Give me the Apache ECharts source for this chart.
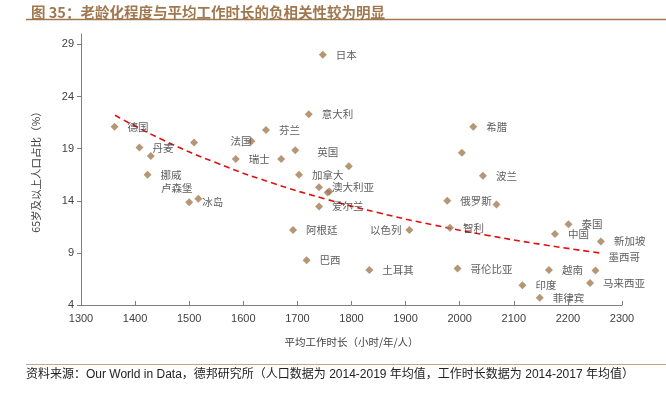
<!DOCTYPE html>
<html><head><meta charset="utf-8">
<script src="https://cdn.jsdelivr.net/npm/echarts@6/dist/echarts.min.js"></script>
<style>html,body{margin:0;padding:0;background:#fff}#c{width:666px;height:394px}</style>
</head><body><div id="c"></div>
<script>
// ---- data ----
const countries = ['德国','丹麦','','','挪威','冰岛','卢森堡','法国','瑞士','','芬兰','英国','意大利','日本','加拿大','','希腊','','波兰','澳大利亚','','','爱尔兰','阿根廷','巴西','俄罗斯','','以色列','智利','泰国','中国','新加坡','墨西哥','土耳其','哥伦比亚','越南','马来西亚','印度','菲律宾'];
const hours   = [1362,1408,1429,1509,1423,1500,1517,1615,1586,1670,1642,1696,1721,1747,1703,1795,2025,2004,2043,1740,1756,1759,1740,1692,1717,1977,2068,1907,1982,2201,2176,2261,2251,1833,1996,2165,2241,2116,2148];
const share65 = [21.1,19.1,18.3,19.6,16.5,13.85,14.2,19.7,18.0,18.0,20.8,18.85,22.3,28.0,16.5,17.3,21.1,18.6,16.4,15.3,14.8,14.9,13.45,11.2,8.3,14.0,13.65,11.2,11.4,11.75,10.8,10.1,7.3,7.35,7.5,7.35,6.1,5.9,4.7];
const trendHours = [1363,1450,1550,1650,1750,1850,1950,2050,2150,2265];
const trendShare = [22.2,19.87,17.64,15.77,14.2,12.85,11.7,10.7,9.82,8.95];
const yTicks = [4,9,14,19,24,29];

// ---- label placement (style, not data) ----
const labelOverrides = {
  '法国': {position:'left', distance:5, offset:[9,0]},
  '英国': {offset:[9,2]},
  '卢森堡': {position:'left', distance:2, offset:[0,-11]},
  '以色列': {position:'left', distance:4},
  '墨西哥': {offset:[0,-14]}
};
const cjk = '"Noto Sans CJK SC", sans-serif';
const brown = '#A47C52';

const pts = countries.map((n,i)=>{
  const lab = Object.assign({show: n !== '', position:'right', distance:9, formatter: n}, labelOverrides[n]||{});
  return {name:n, value:[hours[i], share65[i]], label: lab};
});

const chart = echarts.init(document.getElementById('c'), null, {renderer:'canvas'});
chart.setOption({
  animation:false,
  title:{text:'图 35：老龄化程度与平均工作时长的负相关性较为明显', left:26, top:0,
    textStyle:{fontSize:14.5, fontWeight:'bold', color:'#A0784F', fontFamily:cjk}},
  grid:{left:81, right:44, top:34, bottom:89},
  xAxis:{type:'value', min:1300, max:2300, interval:100,
    name:'平均工作时长（小时/年/人）', nameLocation:'middle', nameGap:32,
    nameTextStyle:{fontSize:10.5, color:'#404040', fontFamily:cjk},
    axisLine:{show:true, lineStyle:{color:'#7f7f7f'}},
    axisTick:{show:true, inside:true, length:4, lineStyle:{color:'#7f7f7f'}},
    axisLabel:{fontSize:11, color:'#404040', fontFamily:'"Liberation Sans", Arial', margin:8,
      formatter:v=>String(v)},
    splitLine:{show:false}},
  yAxis:{type:'value', min:4, max:30, interval:5,
    name:'65岁及以上人口占比（%）', nameLocation:'middle', nameGap:40, nameRotate:90,
    nameTextStyle:{fontSize:10.5, color:'#404040', fontFamily:cjk},
    axisLine:{show:true, lineStyle:{color:'#7f7f7f'}},
    axisTick:{show:true, length:4, customValues:yTicks, lineStyle:{color:'#7f7f7f'}},
    axisLabel:{fontSize:11, color:'#404040', fontFamily:'"Liberation Sans", Arial', margin:7,
      customValues:yTicks, formatter:v=> yTicks.indexOf(v)>=0 ? String(v) : ''},
    splitLine:{show:false}},
  series:[
    {type:'scatter', symbol:'diamond', symbolSize:8, itemStyle:{color:brown},
     label:{fontSize:10.5, color:'#333', fontFamily:cjk},
     data: pts, z:3},
    {type:'line', data: trendHours.map((h,i)=>[h,trendShare[i]]), smooth:true, showSymbol:false,
     lineStyle:{color:'#E01010', width:1.6, type:[6,4]}, z:2}
  ],
  graphic:[
    {type:'line', shape:{x1:26,y1:19.5,x2:666,y2:19.5}, style:{stroke:'#A0784F', lineWidth:1.5}},
    {type:'line', shape:{x1:26,y1:364.5,x2:666,y2:364.5}, style:{stroke:'#C4A484', lineWidth:1}},
    {type:'text', left:26, top:369, style:{text:'资料来源：Our World in Data，德邦研究所（人口数据为 2014-2019 年均值，工作时长数据为 2014-2017 年均值）',
      fontSize:12, fill:'#222', fontFamily:'"Liberation Sans", "Noto Sans CJK SC", sans-serif'}}
  ]
});
</script></body></html>
